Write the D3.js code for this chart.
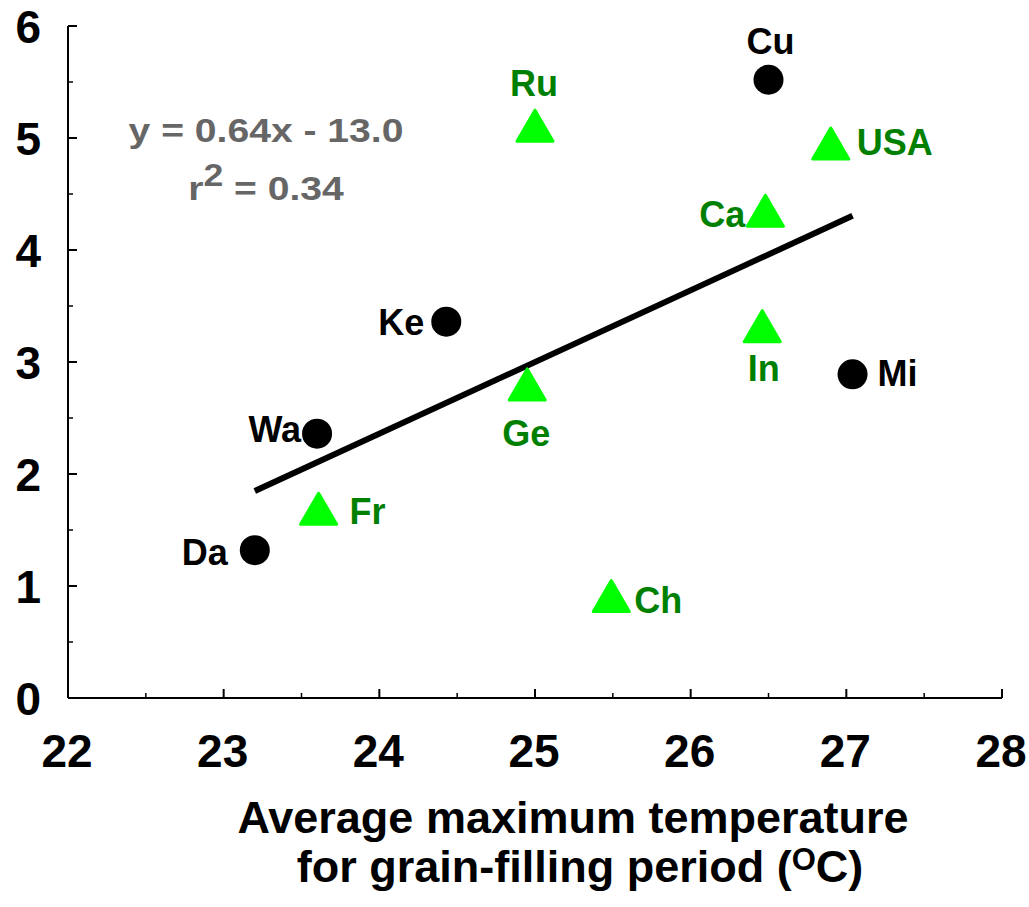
<!DOCTYPE html>
<html>
<head>
<meta charset="utf-8">
<script src="https://cdn.jsdelivr.net/npm/d3@7"></script>
<style>
  html, body { margin: 0; padding: 0; background: #fff; }
  svg { display: block; font-family: "Liberation Sans", Arial, sans-serif; font-weight: bold; }
</style>
</head>
<body>
<svg id="chart" width="1029" height="907"></svg>
<script>
// Grain-filling temperature vs. value, by site / country
const circleNames = ["Cu", "Ke", "Wa", "Da", "Mi"];
const circleTemp  = [26.50, 24.43, 23.60, 23.20, 27.04];
const circleValue = [5.52, 3.36, 2.36, 1.32, 2.89];

const triNames = ["Ru", "USA", "Ca", "In", "Ge", "Fr", "Ch"];
const triTemp  = [25.00, 26.90, 26.48, 26.46, 24.95, 23.61, 25.49];
const triValue = [5.11, 4.95, 4.35, 3.32, 2.80, 1.69, 0.91];

const xTicks = [22, 23, 24, 25, 26, 27, 28];
const yTicks = [0, 1, 2, 3, 4, 5, 6];

// Linear trend: y = slope * x + intercept
const trendSlope = 0.64;
const trendIntercept = -13.0;
const trendLabel = "y = 0.64x - 13.0";
const r2Value = "0.34";

const xTitle1 = "Average maximum temperature";
const xTitle2 = "for grain-filling period (";

// Label placement relative to each marker: [anchor, dx, dy]
const labelPlace = {
  Cu: ["middle", 2, -26], Ke: ["end", -22, 13], Wa: ["end", -16, 8],
  Da: ["end", -27, 15], Mi: ["start", 25, 12],
  Ru: ["middle", -1, -30], USA: ["start", 26, 11], Ca: ["end", -20, 16],
  In: ["middle", 1.5, 55], Ge: ["middle", -1, 62], Fr: ["start", 31, 15],
  Ch: ["start", 23, 17]
};

const svg = d3.select("#chart");
const x = d3.scaleLinear().domain([22, 28]).range([68, 1002]);
const y = d3.scaleLinear().domain([0, 6]).range([698, 26]);

const minor = v => d3.range(v[0] + 0.5, v[1], 1);

// Axes with inward ticks
const xAxis = svg.append("g").attr("transform", `translate(0,${y(0)})`);
xAxis.append("line").attr("x1", x(22)).attr("x2", x(28)).attr("stroke", "#000").attr("stroke-width", 2);
xAxis.selectAll("line.major").data(xTicks).join("line").attr("class", "major")
  .attr("x1", d => x(d)).attr("x2", d => x(d)).attr("y1", 0).attr("y2", -9)
  .attr("stroke", "#000").attr("stroke-width", 2);
xAxis.selectAll("line.minor").data(minor([22, 28])).join("line").attr("class", "minor")
  .attr("x1", d => x(d)).attr("x2", d => x(d)).attr("y1", 0).attr("y2", -5)
  .attr("stroke", "#000").attr("stroke-width", 1.5);
xAxis.selectAll("text").data(xTicks).join("text")
  .attr("x", d => x(d) - 1).attr("y", 69).attr("text-anchor", "middle")
  .attr("font-size", 46).attr("fill", "#000").text(d => d);

const yAxis = svg.append("g").attr("transform", `translate(${x(22)},0)`);
yAxis.append("line").attr("y1", y(0)).attr("y2", y(6)).attr("stroke", "#000").attr("stroke-width", 2);
yAxis.selectAll("line.major").data(yTicks).join("line").attr("class", "major")
  .attr("y1", d => y(d)).attr("y2", d => y(d)).attr("x1", 0).attr("x2", 9)
  .attr("stroke", "#000").attr("stroke-width", 2);
yAxis.selectAll("line.minor").data(minor([0, 6])).join("line").attr("class", "minor")
  .attr("y1", d => y(d)).attr("y2", d => y(d)).attr("x1", 0).attr("x2", 5)
  .attr("stroke", "#000").attr("stroke-width", 1.5);
yAxis.selectAll("text").data(yTicks).join("text")
  .attr("x", -27).attr("y", d => y(d) + 17).attr("text-anchor", "end")
  .attr("font-size", 46).attr("fill", "#000").text(d => d);

// Trend line spanning the observed temperature range
const allTemp = circleTemp.concat(triTemp);
const tExt = d3.extent(allTemp);
svg.append("line")
  .attr("x1", x(tExt[0])).attr("y1", y(trendSlope * tExt[0] + trendIntercept))
  .attr("x2", x(tExt[1])).attr("y2", y(trendSlope * tExt[1] + trendIntercept))
  .attr("stroke", "#000").attr("stroke-width", 6);

// Equation and r² (slightly widened lettering)
svg.append("text").attr("transform", "translate(266,142) scale(1.15,1)")
  .attr("text-anchor", "middle")
  .attr("font-size", 34).attr("fill", "#666").text(trendLabel);
const r2 = svg.append("text").attr("transform", "translate(266,200) scale(1.15,1)")
  .attr("text-anchor", "middle")
  .attr("font-size", 34).attr("fill", "#666");
r2.append("tspan").text("r");
r2.append("tspan").attr("font-size", 31).attr("dy", -14).text("2");
r2.append("tspan").attr("dy", 14).text(" = " + r2Value);

// Circle markers
const circles = circleNames.map((n, i) => ({ name: n, t: circleTemp[i], v: circleValue[i] }));
svg.selectAll("circle.pt").data(circles).join("circle").attr("class", "pt")
  .attr("cx", d => x(d.t)).attr("cy", d => y(d.v)).attr("r", 15).attr("fill", "#000");

// Triangle markers
const tris = triNames.map((n, i) => ({ name: n, t: triTemp[i], v: triValue[i] }));
svg.selectAll("path.tri").data(tris).join("path").attr("class", "tri")
  .attr("d", "M0,-15.5L18,15.5L-18,15.5Z")
  .attr("transform", d => `translate(${x(d.t)},${y(d.v)})`)
  .attr("fill", "#00ff00").attr("stroke", "#00ff00").attr("stroke-width", 3)
  .attr("stroke-linejoin", "round");

// Point labels
function addLabels(data, color) {
  svg.selectAll(null).data(data).join("text")
    .attr("x", d => x(d.t) + labelPlace[d.name][1])
    .attr("y", d => y(d.v) + labelPlace[d.name][2])
    .attr("text-anchor", d => labelPlace[d.name][0])
    .attr("font-size", 36).attr("fill", color).text(d => d.name);
}
addLabels(circles, "#000");
addLabels(tris, "#008000");

// Axis title
svg.append("text").attr("x", 573).attr("y", 833).attr("text-anchor", "middle")
  .attr("font-size", 45).attr("fill", "#000").text(xTitle1);
const t2 = svg.append("text").attr("x", 580).attr("y", 882).attr("text-anchor", "middle")
  .attr("font-size", 45).attr("fill", "#000");
t2.append("tspan").text(xTitle2);
t2.append("tspan").attr("font-size", 31).attr("dy", -12).text("O");
t2.append("tspan").attr("dy", 12).text("C)");
</script>
</body>
</html>
